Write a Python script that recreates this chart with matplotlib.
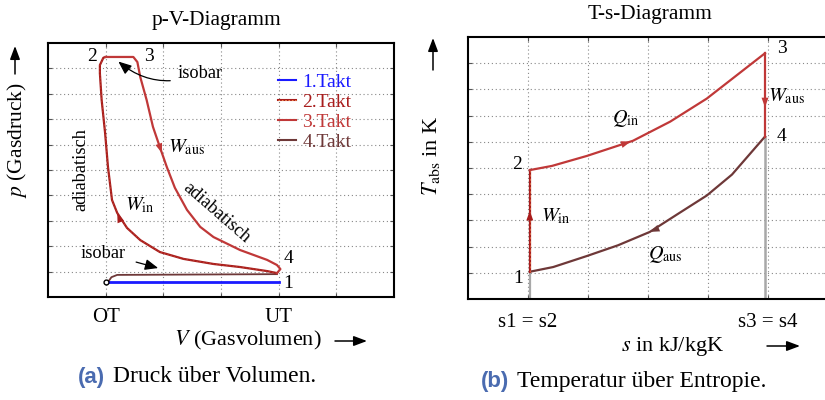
import matplotlib.pyplot as plt
from matplotlib.lines import Line2D
from matplotlib.patches import FancyArrowPatch

# ================= DATA =================
# p-V diagram (x: volume, 1 = OT, 4 = UT; y: pressure, arbitrary units)
V_takt1 = [1.05, 4.0]
p_takt1 = [0.6, 0.6]

# compression 1 -> 2
V_takt2 = [3.97, 3.8, 3.33, 2.87, 2.35, 1.94, 1.6, 1.37, 1.2, 1.11, 1.04, 0.99, 0.93, 0.9, 0.9, 0.96, 1.0]
p_takt2 = [0.94, 1.02, 1.18, 1.3, 1.5, 1.77, 2.24, 2.72, 3.31, 3.82, 5.12, 6.46, 7.76, 8.8, 9.13, 9.42, 9.45]

# isobar 2 -> 3, expansion 3 -> 4
V_takt3 = [1.0, 1.48, 1.55, 1.6, 1.71, 1.82, 1.94, 2.06, 2.2, 2.41, 2.64, 2.87, 3.33, 3.8, 3.97, 4.03, 3.97]
p_takt3 = [9.45, 9.45, 9.25, 8.66, 7.76, 6.7, 5.9, 5.12, 4.3, 3.43, 2.76, 2.36, 1.85, 1.46, 1.26, 1.1, 0.94]

# exhaust 4 -> 1
V_takt4 = [3.97, 1.2, 1.1, 1.05]
p_takt4 = [0.9, 0.87, 0.78, 0.62]

pv_xticks = [1, 4]
pv_xticklabels = ["OT", "UT"]

# T-s diagram
s_12 = [1.03, 1.03]
T_12 = [1.04, 4.92]
s_23 = [1.03, 1.4, 1.98, 2.75, 3.37, 3.98, 4.95]
T_23 = [4.92, 5.08, 5.46, 6.04, 6.77, 7.65, 9.38]
s_34 = [4.95, 4.95]
T_34 = [9.38, 6.2]
s_41 = [4.95, 4.4, 3.98, 3.5, 3.03, 2.5, 1.98, 1.42, 1.03]
T_41 = [6.2, 4.75, 3.95, 3.25, 2.56, 2.05, 1.64, 1.22, 1.04]

ts_xticks = [1, 5]
ts_xticklabels = ["s1 = s2", "s3 = s4"]

# ================= STYLE =================
C1 = "#1a1aff"
C2 = "#a81c1c"
C2_DASH = "#ffa060"
C3 = "#c03838"
C4 = "#6e3838"
GREY = "#a8a8a8"
CAP_BLUE = "#4a6bb0"

plt.rcParams['font.family'] = ['Liberation Serif', 'DejaVu Serif']
plt.rcParams['mathtext.fontset'] = 'stix'
FS_TITLE = 15.4
FS_TICK = 15
FS_LABEL = 15.5
FS_CAP = 17
FS_NOTE = 13.2
FS_LEG = 14
FS_NUM = 14
FS_SYM = 14.5

W, H = 825, 400
fig = plt.figure(figsize=(8.25, 4), dpi=100)
ax1 = fig.add_axes([48 / W, 103 / H, 346 / W, 254 / H])
ax2 = fig.add_axes([468 / W, 101 / H, 360 / W, 262 / H])


def fx(px):
    return px / W


def fy(py):
    return 1 - py / H


def style_axes(ax, xticks, xlabels, pad):
    ax.set_xlim(0, 6)
    ax.set_ylim(0, 10)
    ax.set_xticks(range(1, 6))
    ax.set_yticks(range(1, 10))
    ax.set_yticklabels([])
    labels = [""] * 5
    for t, l in zip(xticks, xlabels):
        labels[t - 1] = l
    ax.set_xticklabels(labels, fontsize=FS_TICK)
    ax.tick_params(direction='in', length=3, width=0.8, color='#555555',
                   top=True, right=True, pad=pad)
    ax.grid(True, linestyle=(0, (1, 2.5)), color='#888888', linewidth=0.8)
    for sp in ax.spines.values():
        sp.set_linewidth(1.5)


def arrow_on(ax, xs, ys, i, color, frac=0.5):
    # arrowhead sitting on segment i of a curve, pointing along the curve
    x0, y0 = xs[i], ys[i]
    x1, y1 = xs[i + 1], ys[i + 1]
    xm = x0 + (x1 - x0) * frac
    ym = y0 + (y1 - y0) * frac
    xb = x0 + (x1 - x0) * (frac - 0.08)
    yb = y0 + (y1 - y0) * (frac - 0.08)
    ax.annotate("", xy=(xm, ym), xytext=(xb, yb),
                arrowprops=dict(arrowstyle="-|>,head_length=0.7,head_width=0.25",
                                color=color, lw=0, shrinkA=0, shrinkB=0))


# ---------------- p-V diagram ----------------
style_axes(ax1, pv_xticks, pv_xticklabels, 8)
fig.text(fx(216), fy(20), "p-V-Diagramm", fontsize=FS_TITLE, ha='center', va='center')

ax1.plot(V_takt4, p_takt4, color=C4, lw=1.3, zorder=3)
ax1.plot(V_takt2, p_takt2, color=C2, lw=1.6, zorder=3)
ax1.plot(V_takt2, p_takt2, color=C2_DASH, lw=0.4, ls=(0, (3, 3)), alpha=0.4, zorder=3)
ax1.plot(V_takt3, p_takt3, color=C3, lw=1.6, zorder=3)
ax1.plot(V_takt1, p_takt1, color=C1, lw=2, zorder=4)
ax1.plot([1.0], [0.6], marker='o', ms=3.5, mfc='white', mec='black', mew=1, zorder=5)

arrow_on(ax1, V_takt3, p_takt3, 6, C3, 0.3)
arrow_on(ax1, V_takt2, p_takt2, 8, C2, 0.0)

ax1.text(0.85, 9.45, "2", fontsize=FS_NUM, ha='right', va='center')
ax1.text(1.67, 9.45, "3", fontsize=FS_NUM, ha='left', va='center')
ax1.text(4.08, 1.5, "4", fontsize=FS_NUM, ha='left', va='center')
ax1.text(4.08, 0.55, "1", fontsize=FS_NUM, ha='left', va='center')
ax1.annotate("isobar", xy=(1.22, 9.27), xytext=(2.24, 8.78), fontsize=FS_NOTE,
             va='center', ha='left',
             arrowprops=dict(arrowstyle="-|>,head_length=0.6,head_width=0.25",
                             color='black', lw=0.9, shrinkA=3, shrinkB=0,
                             connectionstyle="arc3,rad=-0.3"))
ax1.annotate("isobar", xy=(1.91, 1.14), xytext=(0.56, 1.73), fontsize=FS_NOTE,
             va='center', ha='left',
             arrowprops=dict(arrowstyle="-|>,head_length=0.6,head_width=0.25",
                             color='black', lw=0.9, shrinkA=6, shrinkB=0))
ax1.text(0.57, 5.0, "adiabatisch", fontsize=FS_NOTE, rotation=90, ha='center', va='center')
ax1.text(2.92, 3.3, "adiabatisch", fontsize=FS_NOTE, rotation=-41, ha='center', va='center',
         rotation_mode='anchor')
ax1.text(2.08, 5.87, r"$W_\mathrm{aus}$", fontsize=FS_SYM, ha='left', va='center')
ax1.text(1.34, 3.6, r"$W_\mathrm{in}$", fontsize=FS_SYM, ha='left', va='center')

handles = [Line2D([], [], color=C1, lw=1.5),
           (Line2D([], [], color=C2, lw=1.5),
            Line2D([], [], color=C2_DASH, lw=0.6, ls=(0, (2, 2)))),
           Line2D([], [], color=C3, lw=1.5),
           Line2D([], [], color=C4, lw=1.5)]
leg = ax1.legend(handles, ["1.Takt", "2.Takt", "3.Takt", "4.Takt"],
                 loc='upper left', bbox_to_anchor=(0.665, 0.88), frameon=False,
                 fontsize=FS_LEG, handlelength=0.9, handletextpad=0.35,
                 labelspacing=0.12, borderaxespad=0, borderpad=0)
for txt, c in zip(leg.get_texts(), [C1, C2, C3, C4]):
    txt.set_color(c)

# ---------------- T-s diagram ----------------
style_axes(ax2, ts_xticks, ts_xticklabels, 10)
fig.text(fx(650), fy(15), "T-s-Diagramm", fontsize=FS_TITLE, ha='center', va='center')

ax2.plot([s_12[0], s_12[0]], [0, T_12[0]], color=GREY, lw=1.6, zorder=2)
ax2.plot([s_34[0], s_34[0]], [0, T_34[1]], color=GREY, lw=1.8, zorder=2)
ax2.plot(s_41, T_41, color=C4, lw=1.6, zorder=3)
ax2.plot(s_12, T_12, color=C2, lw=1.6, zorder=3)
ax2.plot(s_12, T_12, color=C2_DASH, lw=0.5, ls=(0, (3, 3)), alpha=0.7, zorder=3)
ax2.plot(s_23, T_23, color=C3, lw=1.6, zorder=3)
ax2.plot(s_34, T_34, color=C3, lw=1.6, zorder=3)

arrow_on(ax2, s_12, T_12, 0, C2, 0.6)
arrow_on(ax2, s_23, T_23, 2, C3, 0.95)
arrow_on(ax2, s_34, T_34, 0, C3, 0.65)
arrow_on(ax2, s_41, T_41, 4, C4, 0.0)

ax2.text(0.9, 5.15, "2", fontsize=FS_NUM, ha='right', va='center')
ax2.text(0.92, 0.8, "1", fontsize=FS_NUM, ha='right', va='center')
ax2.text(5.15, 9.58, "3", fontsize=FS_NUM, ha='left', va='center')
ax2.text(5.15, 6.19, "4", fontsize=FS_NUM, ha='left', va='center')
ax2.text(5.0, 7.73, r"$W_\mathrm{aus}$", fontsize=FS_SYM, ha='left', va='center')
ax2.text(1.22, 3.15, r"$W_\mathrm{in}$", fontsize=FS_SYM, ha='left', va='center')
ax2.text(2.4, 6.88, r"$Q_\mathrm{in}$", fontsize=FS_SYM, ha='left', va='center')
ax2.text(3.0, 1.7, r"$Q_\mathrm{aus}$", fontsize=FS_SYM, ha='left', va='center')

# ---------------- axis labels with arrows ----------------
fig.text(fx(17), fy(140), r"$p$ (Gasdruck)", fontsize=FS_LABEL, rotation=90,
         ha='center', va='center')
fig.text(fx(248), fy(340), r"$V$ (Gasvolumen)", fontsize=16,
         ha='center', va='center')
fig.text(fx(431), fy(156), r"$T_\mathrm{abs}$ in K", fontsize=16, rotation=90,
         ha='center', va='center')
fig.text(fx(673), fy(346), r"$s$ in kJ/kgK", fontsize=16,
         ha='center', va='center')

arrow_kw = dict(arrowstyle="-|>,head_length=0.8,head_width=0.3", color='black', lw=1.1,
                shrinkA=0, shrinkB=0)
for start, end in [((15, 74), (15, 46)), ((335, 341), (367, 341)),
                   ((433, 70), (433, 38)), ((767, 346), (800, 346))]:
    fig.add_artist(FancyArrowPatch((fx(start[0]), fy(start[1])), (fx(end[0]), fy(end[1])),
                                   transform=fig.transFigure, mutation_scale=10, **arrow_kw))

# ---------------- captions ----------------
fig.text(fx(78), fy(377), "(a)", fontsize=16, color=CAP_BLUE, fontweight='bold',
         family=['Liberation Sans', 'DejaVu Sans'], ha='left', va='center')
fig.text(fx(113), fy(377), "Druck über Volumen.", fontsize=FS_CAP,
         ha='left', va='center')
fig.text(fx(481), fy(381), "(b)", fontsize=16, color=CAP_BLUE, fontweight='bold',
         family=['Liberation Sans', 'DejaVu Sans'], ha='left', va='center')
fig.text(fx(517), fy(381), "Temperatur über Entropie.", fontsize=FS_CAP,
         ha='left', va='center')

fig.savefig("out.png", dpi=100)
